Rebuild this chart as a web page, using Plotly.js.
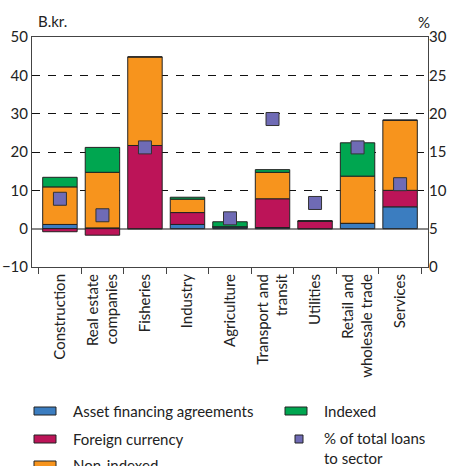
<!DOCTYPE html>
<html>
<head>
<meta charset="utf-8">
<script src="https://cdn.plot.ly/plotly-3.0.1.min.js"></script>
<style>
html,body{margin:0;padding:0;background:#fff;}
#chart{width:452px;height:466px;}
</style>
</head>
<body>
<div id="chart"></div>
<script>
const categories = ["Construction", "Real estate<br>companies", "Fisheries", "Industry", "Agriculture", "Transport and<br>transit", "Utilities", "Retail and<br>wholesale trade", "Services"];
const assetFinancing = [1.1, 0.2, 0, 1.1, 0.5, 0.3, 0, 1.4, 5.7];
const foreignCurrency = [-0.8, -1.7, 21.7, 3.1, 0, 7.5, 2.0, 0, 4.3];
const nonIndexed = [9.8, 14.5, 23.1, 3.5, 0, 6.9, 0, 12.3, 18.3];
const indexed = [2.5, 6.5, 0, 0.5, 1.3, 0.7, 0, 8.7, 0];
const pctOfTotal = [8.9, 6.75, 15.6, null, 6.35, 19.3, 8.35, 15.6, 10.8];

const seriesNames = ["Asset financing agreements", "Foreign currency", "Non-indexed", "Indexed", "% of total loans<br>to sector"];
const seriesColors = ["#3b7dc0", "#bc1458", "#f7941d", "#00a650", "#6f6bb5"];

const FONT = "Lato, 'Open Sans', sans-serif";
const outline = {color: "#222", width: 1};

function barTrace(i, y) {
  return {type: "bar", name: seriesNames[i], x: categories, y: y, showlegend: false,
          marker: {color: seriesColors[i], line: outline}, hoverinfo: "skip"};
}

const data = [
  barTrace(0, assetFinancing),
  barTrace(1, foreignCurrency),
  barTrace(2, nonIndexed),
  barTrace(3, indexed),
  {type: "scatter", mode: "markers", name: seriesNames[4], x: categories, y: pctOfTotal,
   yaxis: "y2", showlegend: false,
   marker: {symbol: "square", size: 13, color: seriesColors[4], line: {color: "#333", width: 1}}}
];

// Manual legend (two columns, as in the reference), in pixel positions converted to paper coords
const L = 32, T = 37, W = 396, H = 230;
const px = x => (x - L) / W;
const py = y => (T + H - y) / H;
const legendItems = [
  {i: 0, col: 0, row: 0, kind: "bar"},
  {i: 3, col: 1, row: 0, kind: "bar"},
  {i: 1, col: 0, row: 1, kind: "bar"},
  {i: 4, col: 1, row: 1, kind: "marker"},
  {i: 2, col: 0, row: 2, kind: "bar"}
];
const colX = [34, 285];
const rowY = [411, 439, 465];
const shapes = [];
const annotations = [
  {text: "B.kr.", xref: "paper", yref: "paper", x: px(36), y: py(21), xanchor: "left", yanchor: "middle",
   showarrow: false, font: {size: 15}},
  {text: "%", xref: "paper", yref: "paper", x: px(432), y: py(22), xanchor: "right", yanchor: "middle",
   showarrow: false, font: {size: 15}}
];
legendItems.forEach(it => {
  const x0 = colX[it.col], yc = rowY[it.row];
  if (it.kind === "bar") {
    shapes.push({type: "rect", xref: "paper", yref: "paper", x0: px(x0), x1: px(x0 + 22),
                 y0: py(yc - 4), y1: py(yc + 4), fillcolor: seriesColors[it.i],
                 line: {color: "#222", width: 1}});
  } else {
    shapes.push({type: "rect", xref: "paper", yref: "paper", x0: px(x0 + 10), x1: px(x0 + 18),
                 y0: py(yc - 4), y1: py(yc + 4), fillcolor: seriesColors[it.i],
                 line: {color: "#222", width: 1}});
  }
  const multi = seriesNames[it.i].indexOf("<br>") >= 0;
  annotations.push({text: seriesNames[it.i], xref: "paper", yref: "paper",
    x: px(x0 + 37), y: multi ? py(yc - 12) : py(yc), xanchor: "left",
    yanchor: multi ? "top" : "middle", align: "left", showarrow: false,
    font: {size: 15, color: "#222"}});
});

const layout = {
  width: 452, height: 466,
  margin: {l: 32, r: 24, t: 37, b: 199, autoexpand: false},
  paper_bgcolor: "#fff", plot_bgcolor: "#fff",
  font: {family: FONT, size: 15, color: "#222"},
  barmode: "relative",
  bargap: 0.19,
  showlegend: false,
  xaxis: {type: "category", tickson: "boundaries", ticks: "outside", ticklen: 6,
          tickcolor: "#444", tickangle: -90, showline: true, linecolor: "#444",
          linewidth: 1, mirror: true, showgrid: false, tickfont: {size: 15}},
  yaxis: {range: [-10, 50], dtick: 10, tickmode: "linear", showline: true,
          linecolor: "#444", mirror: true, showgrid: true, gridcolor: "#111",
          griddash: "8px,8px", gridwidth: 1, zeroline: true, zerolinecolor: "#888",
          zerolinewidth: 2, ticks: "", tickfont: {size: 15}},
  yaxis2: {range: [0, 30], dtick: 5, tickmode: "linear", overlaying: "y", side: "right",
           showgrid: false, zeroline: false, showline: false, ticks: "", tickfont: {size: 15}},
  shapes: shapes,
  annotations: annotations
};

Plotly.newPlot("chart", data, layout, {staticPlot: true});
</script>
</body>
</html>
